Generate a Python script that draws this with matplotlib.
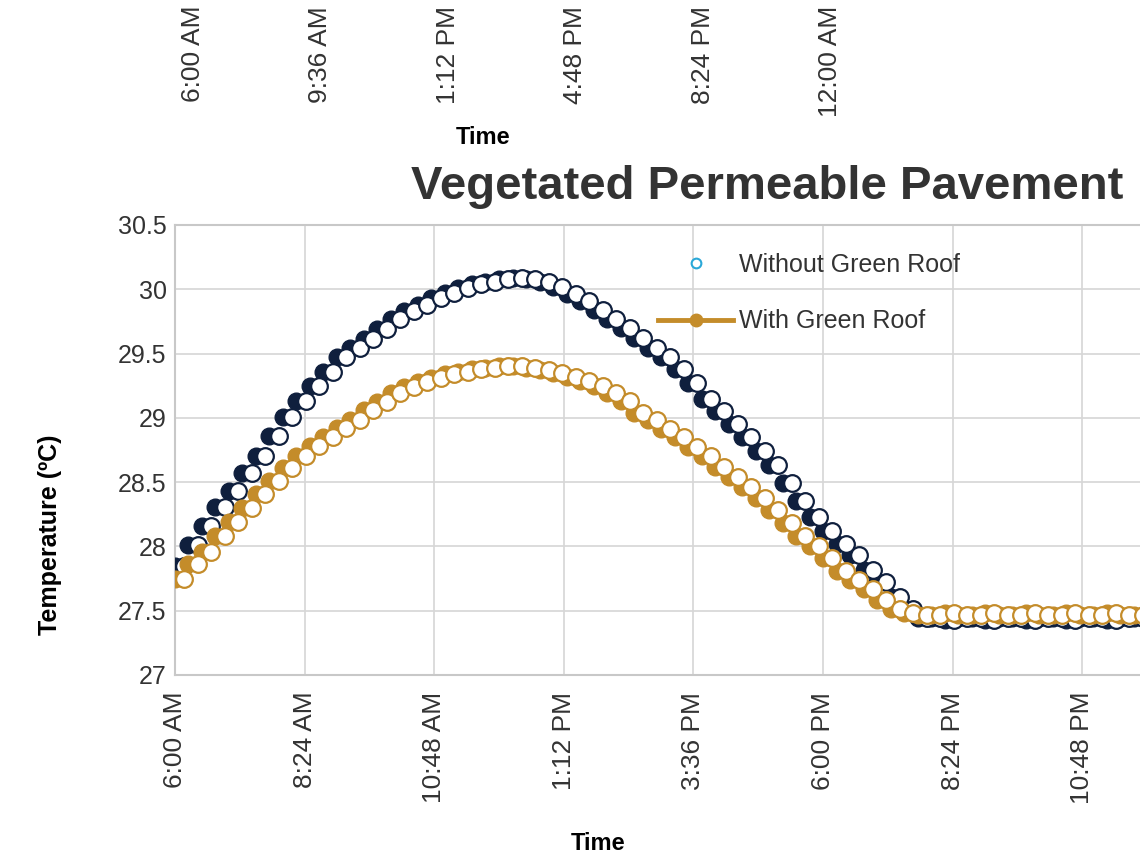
import matplotlib
matplotlib.use("Agg")
import matplotlib.pyplot as plt
from matplotlib.lines import Line2D
import numpy as np

plt.rcParams["font.family"] = ["Liberation Sans", "DejaVu Sans"]

# readings every 15 min starting 6:00 AM (hours since midnight)
hours = 6.0 + 0.25 * np.arange(72)
# the open-circle copy of each series is logged a few minutes later
hours_open = hours + 0.17

navy_temp = [27.85, 28.01, 28.16, 28.31, 28.43, 28.57, 28.70, 28.86, 29.01, 29.13,
             29.25, 29.36, 29.47, 29.54, 29.61, 29.69, 29.77, 29.83, 29.88, 29.93,
             29.97, 30.01, 30.04, 30.06, 30.08, 30.09, 30.08, 30.06, 30.02, 29.96,
             29.91, 29.84, 29.77, 29.70, 29.62, 29.54, 29.47, 29.38, 29.27, 29.15,
             29.05, 28.95, 28.85, 28.74, 28.63, 28.49, 28.35, 28.23, 28.12, 28.02,
             27.93, 27.82, 27.72, 27.61, 27.51, 27.44,
             27.44, 27.43, 27.44, 27.44, 27.43, 27.44, 27.44, 27.43,
             27.44, 27.44, 27.43, 27.44, 27.44, 27.43, 27.44, 27.44]

gold_temp = [27.75, 27.86, 27.96, 28.08, 28.19, 28.30, 28.41, 28.51, 28.61, 28.70,
             28.78, 28.85, 28.92, 28.98, 29.06, 29.12, 29.19, 29.24, 29.28, 29.31,
             29.34, 29.36, 29.38, 29.39, 29.40, 29.40, 29.39, 29.37, 29.35, 29.32,
             29.29, 29.25, 29.19, 29.13, 29.04, 28.98, 28.91, 28.85, 28.77, 28.70,
             28.62, 28.54, 28.46, 28.38, 28.28, 28.18, 28.08, 28.00, 27.91, 27.81,
             27.74, 27.67, 27.58, 27.51, 27.48, 27.47,
             27.47, 27.48, 27.47, 27.47, 27.48, 27.47, 27.47, 27.48,
             27.47, 27.47, 27.48, 27.47, 27.47, 27.48, 27.47, 27.47]

x_ticks = [6.0, 8.4, 10.8, 13.2, 15.6, 18.0, 20.4, 22.8]
x_labels = ["6:00 AM", "8:24 AM", "10:48 AM", "1:12 PM", "3:36 PM",
            "6:00 PM", "8:24 PM", "10:48 PM"]
y_ticks = [27, 27.5, 28, 28.5, 29, 29.5, 30, 30.5]
y_labels = ["27", "27.5", "28", "28.5", "29", "29.5", "30", "30.5"]

# tick labels of the chart above (only its bottom edge is in frame)
top_ticks = [6.0, 9.6, 13.2, 16.8, 20.4, 24.0]
top_labels = ["6:00 AM", "9:36 AM", "1:12 PM", "4:48 PM", "8:24 PM", "12:00 AM"]

navy = "#0f1f3d"
gold = "#c48c2a"
cyan = "#2aa8d8"
txt = "#333333"
W, H = 1140, 857

fig = plt.figure(figsize=(W / 100, H / 100), dpi=100)

# ---- main chart ----
ax = fig.add_axes([175 / W, 1 - 675 / H, 1 - 175 / W, 450 / H])
ax.plot(hours, navy_temp, "o", ms=12, color=navy, mec=navy, zorder=3)
ax.plot(hours_open, navy_temp, "o", ms=12, mfc="white", mec=navy, mew=1.6, zorder=4)
ax.plot(hours, gold_temp, "o", ms=12, color=gold, mec=gold, zorder=5)
ax.plot(hours_open, gold_temp, "o", ms=12, mfc="white", mec=gold, mew=1.6, zorder=6)

ax.set_xlim(6, 6 + (W - 175) / 54)
ax.set_ylim(27, 30.5)
ax.set_xticks(x_ticks)
ax.set_xticklabels(x_labels, rotation=90, va="top", ha="center")
ax.set_yticks(y_ticks)
ax.set_yticklabels(y_labels)
ax.tick_params(axis="x", length=0, pad=12, labelsize=19, labelcolor=txt)
ax.tick_params(axis="y", length=0, pad=6, labelsize=18, labelcolor=txt)
ax.grid(True, color="#d6d6d6", lw=1.2, zorder=0)
ax.set_axisbelow(True)
for s in ["left", "bottom", "top"]:
    ax.spines[s].set_color("#c8c8c8")
    ax.spines[s].set_linewidth(1.5)
ax.spines["right"].set_visible(False)

handles = [Line2D([], [], ls="none", marker="o", ms=7, mfc="white", mec=cyan, mew=1.5),
           Line2D([], [], color=gold, lw=3.5, marker="o", ms=9)]
leg = ax.legend(handles, ["Without Green Roof", "With Green Roof"],
                loc="upper left", bbox_to_anchor=(658 / W, 1 - 253 / H),
                bbox_transform=fig.transFigure, frameon=False, fontsize=18,
                handlelength=3.0, handletextpad=0.25, labelspacing=1.3,
                borderpad=0, borderaxespad=0)
for t in leg.get_texts():
    t.set_color(txt)

fig.text(767 / W, 1 - 187 / H, "Vegetated Permeable Pavement", ha="center",
         va="center", fontsize=34, fontweight="bold", color=txt)
fig.text(50 / W, 1 - 535 / H, "Temperature (ºC)", rotation=90, ha="center",
         va="center", fontsize=18, fontweight="bold", color="black")
fig.text(598 / W, 1 - 843 / H, "Time", ha="center", va="center",
         fontsize=17, fontweight="bold", color="black")

# ---- strip of the chart above ----
ax2 = fig.add_axes([193 / W, 1 - 6 / H, 24 * 35.4 / W, 0.05])
ax2.set_xlim(6, 30)
ax2.set_xticks(top_ticks)
ax2.set_xticklabels(top_labels, rotation=90, va="top", ha="center")
ax2.tick_params(axis="x", length=0, pad=0, labelsize=19, labelcolor=txt)
ax2.set_yticks([])
for s in ax2.spines.values():
    s.set_visible(False)
ax2.patch.set_visible(False)
fig.text(483 / W, 1 - 137 / H, "Time", ha="center", va="center",
         fontsize=17, fontweight="bold", color="black")

fig.savefig("out.png", dpi=100)
